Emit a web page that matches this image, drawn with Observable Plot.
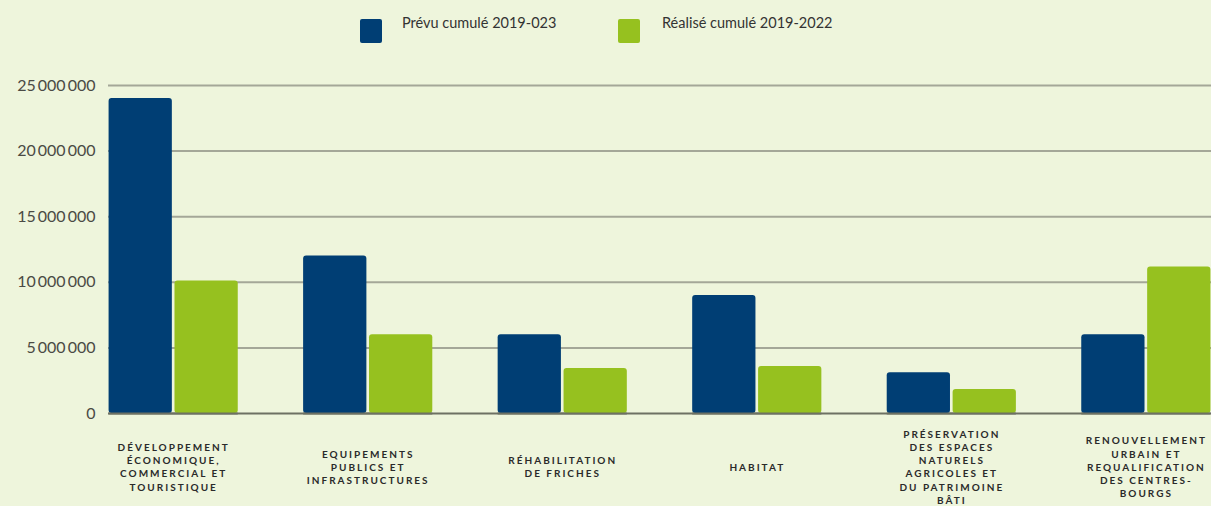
<!DOCTYPE html>
<html>
<head>
<meta charset="utf-8">
<script src="https://cdn.jsdelivr.net/npm/d3@7"></script>
<script src="https://cdn.jsdelivr.net/npm/@observablehq/plot@0.6"></script>
<style>
  html, body { margin: 0; padding: 0; background: #eef5dc; overflow: hidden; }
  #wrap { position: relative; width: 1211px; height: 506px; }
  #legend { position: relative; width: 1211px; height: 60px; font-family: Lato, "Open Sans", sans-serif; font-size: 14.5px; color: #333; }
  .sw { position: absolute; top: 19px; width: 22px; height: 24px; border-radius: 2px; }
  .lt { position: absolute; top: 14px; line-height: 18px; }
  #chart { position: relative; width: 1211px; height: 446px; }
  #chart svg { position: absolute; left: 0; top: 0; }
  .fxlab text { letter-spacing: 2px; }
</style>
</head>
<body>
<div id="wrap">
  <div id="legend"></div>
  <div id="chart"></div>
</div>
<script>
const categories = [
  "DÉVELOPPEMENT\nÉCONOMIQUE,\nCOMMERCIAL ET\nTOURISTIQUE",
  "EQUIPEMENTS\nPUBLICS ET\nINFRASTRUCTURES",
  "RÉHABILITATION\nDE FRICHES",
  "HABITAT",
  "PRÉSERVATION\nDES ESPACES\nNATURELS\nAGRICOLES ET\nDU PATRIMOINE\nBÂTI",
  "RENOUVELLEMENT\nURBAIN ET\nREQUALIFICATION\nDES CENTRES-\nBOURGS"
];
const series = ["Prévu cumulé 2019-023", "Réalisé cumulé 2019-2022"];
const prevu = [24000000, 12000000, 6000000, 9000000, 3100000, 6000000];
const realise = [10100000, 6000000, 3430000, 3580000, 1830000, 11170000];
const yTicks = [0, 5000000, 10000000, 15000000, 20000000, 25000000];
const colors = ["#003e74", "#96c11f"];

const data = categories.flatMap((c, i) => [
  {cat: c, serie: series[0], value: prevu[i]},
  {cat: c, serie: series[1], value: realise[i]}
]);

// legend
const legend = document.getElementById("legend");
const legPos = [{sw: 360, tx: 402}, {sw: 618, tx: 662}];
series.forEach((s, i) => {
  const sw = document.createElement("div");
  sw.className = "sw"; sw.style.left = legPos[i].sw + "px"; sw.style.background = colors[i];
  const t = document.createElement("div");
  t.className = "lt"; t.style.left = legPos[i].tx + "px"; t.textContent = s;
  legend.appendChild(sw); legend.appendChild(t);
});

const fmt = d => d3.format(",")(d).replace(/,/g, "\u2009");

const common = {
  width: 1211, height: 446,
  marginLeft: 108, marginRight: 0, marginTop: 25, marginBottom: 93,
  style: {background: "transparent", fontFamily: "Lato, 'Open Sans', sans-serif", overflow: "visible"}
};

// background: gridlines, y axis, baseline (unfaceted so they run across the whole frame)
const back = Plot.plot({
  ...common,
  y: {domain: [0, 25000000], axis: null},
  marks: [
    Plot.ruleY(yTicks.slice(1), {stroke: "#a4a798", strokeWidth: 2}),
    Plot.ruleY([0], {stroke: "#6d7163", strokeWidth: 2}),
    Plot.axisY({ticks: yTicks, tickSize: 0, tickPadding: 13, tickFormat: fmt, fontSize: 16, fill: "#4a4a44"})
  ]
});

// foreground: grouped bars, category labels
const front = Plot.plot({
  ...common,
  fx: {domain: categories, paddingInner: 0.336, paddingOuter: 0.003, round: false, label: null},
  x: {domain: series, paddingInner: 0.04, paddingOuter: 0, round: false, axis: null},
  y: {domain: [0, 25000000], axis: null},
  color: {domain: series, range: colors},
  marks: [
    Plot.barY(data, {fx: "cat", x: "serie", y: "value", fill: "serie", rx: 3}),
    Plot.ruleY([0], {stroke: "#6d7163", strokeWidth: 2}),
    Plot.axisFx({anchor: "bottom", tickSize: 0, tickPadding: 53, lineAnchor: "middle", fontSize: 10, fontWeight: 700, lineHeight: 1.32, fill: "#2a2a2a", label: null, className: "fxlab"})
  ]
});
const el = document.getElementById("chart");
el.appendChild(back);
el.appendChild(front);
</script>
</body>
</html>
